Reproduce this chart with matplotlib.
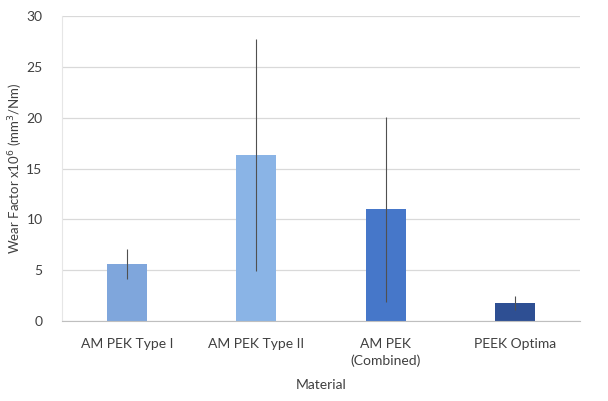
import matplotlib
matplotlib.use("Agg")
import matplotlib.pyplot as plt

# wear factor per material, with standard deviation
materials = ["AM PEK Type I", "AM PEK Type II", "AM PEK\n(Combined)", "PEEK Optima"]
wear = [5.6, 16.3, 11.0, 1.8]
wear_sd = [1.5, 11.4, 9.1, 0.7]
colors = ["#7FA6DC", "#8AB4E6", "#4677C9", "#2E4F93"]

plt.rcParams["font.family"] = ["Lato", "DejaVu Sans"]

fig = plt.figure(figsize=(6.08, 4.01), dpi=100)
ax = fig.add_axes([0.102, 0.1995, 0.852, 0.7605])

x = range(len(materials))
ax.bar(x, wear, width=0.31, color=colors, zorder=2)
ax.errorbar(x, wear, yerr=wear_sd, fmt="none", ecolor="#505050",
            elinewidth=0.8, capsize=0, zorder=3)

ax.set_ylim(0, 30)
ax.set_xlim(-0.5, 3.5)
ax.set_yticks([0, 5, 10, 15, 20, 25, 30])
ax.set_xticks(list(x))
ax.set_xticklabels(materials, fontsize=10, color="#404040", linespacing=1.5)
ax.tick_params(axis="y", labelsize=10, labelcolor="#404040", length=0, pad=14)
ax.tick_params(axis="x", length=0, pad=12)
ax.yaxis.grid(True, color="#D9D9D9", linewidth=0.9, zorder=0)
ax.set_axisbelow(True)

for side in ["top", "right"]:
    ax.spines[side].set_visible(False)
ax.spines["bottom"].set_color("#BFBFBF")
ax.spines["left"].set_color("#E6E6E6")

ax.set_xlabel("Material", fontsize=10, color="#404040", labelpad=8)
ax.set_ylabel("Wear Factor x10$^{6}$ (mm$^{3}$/Nm)", fontsize=9.5, color="#404040")
ax.yaxis.set_label_coords(-0.072, 0.5)

fig.savefig("out.png", dpi=100)
